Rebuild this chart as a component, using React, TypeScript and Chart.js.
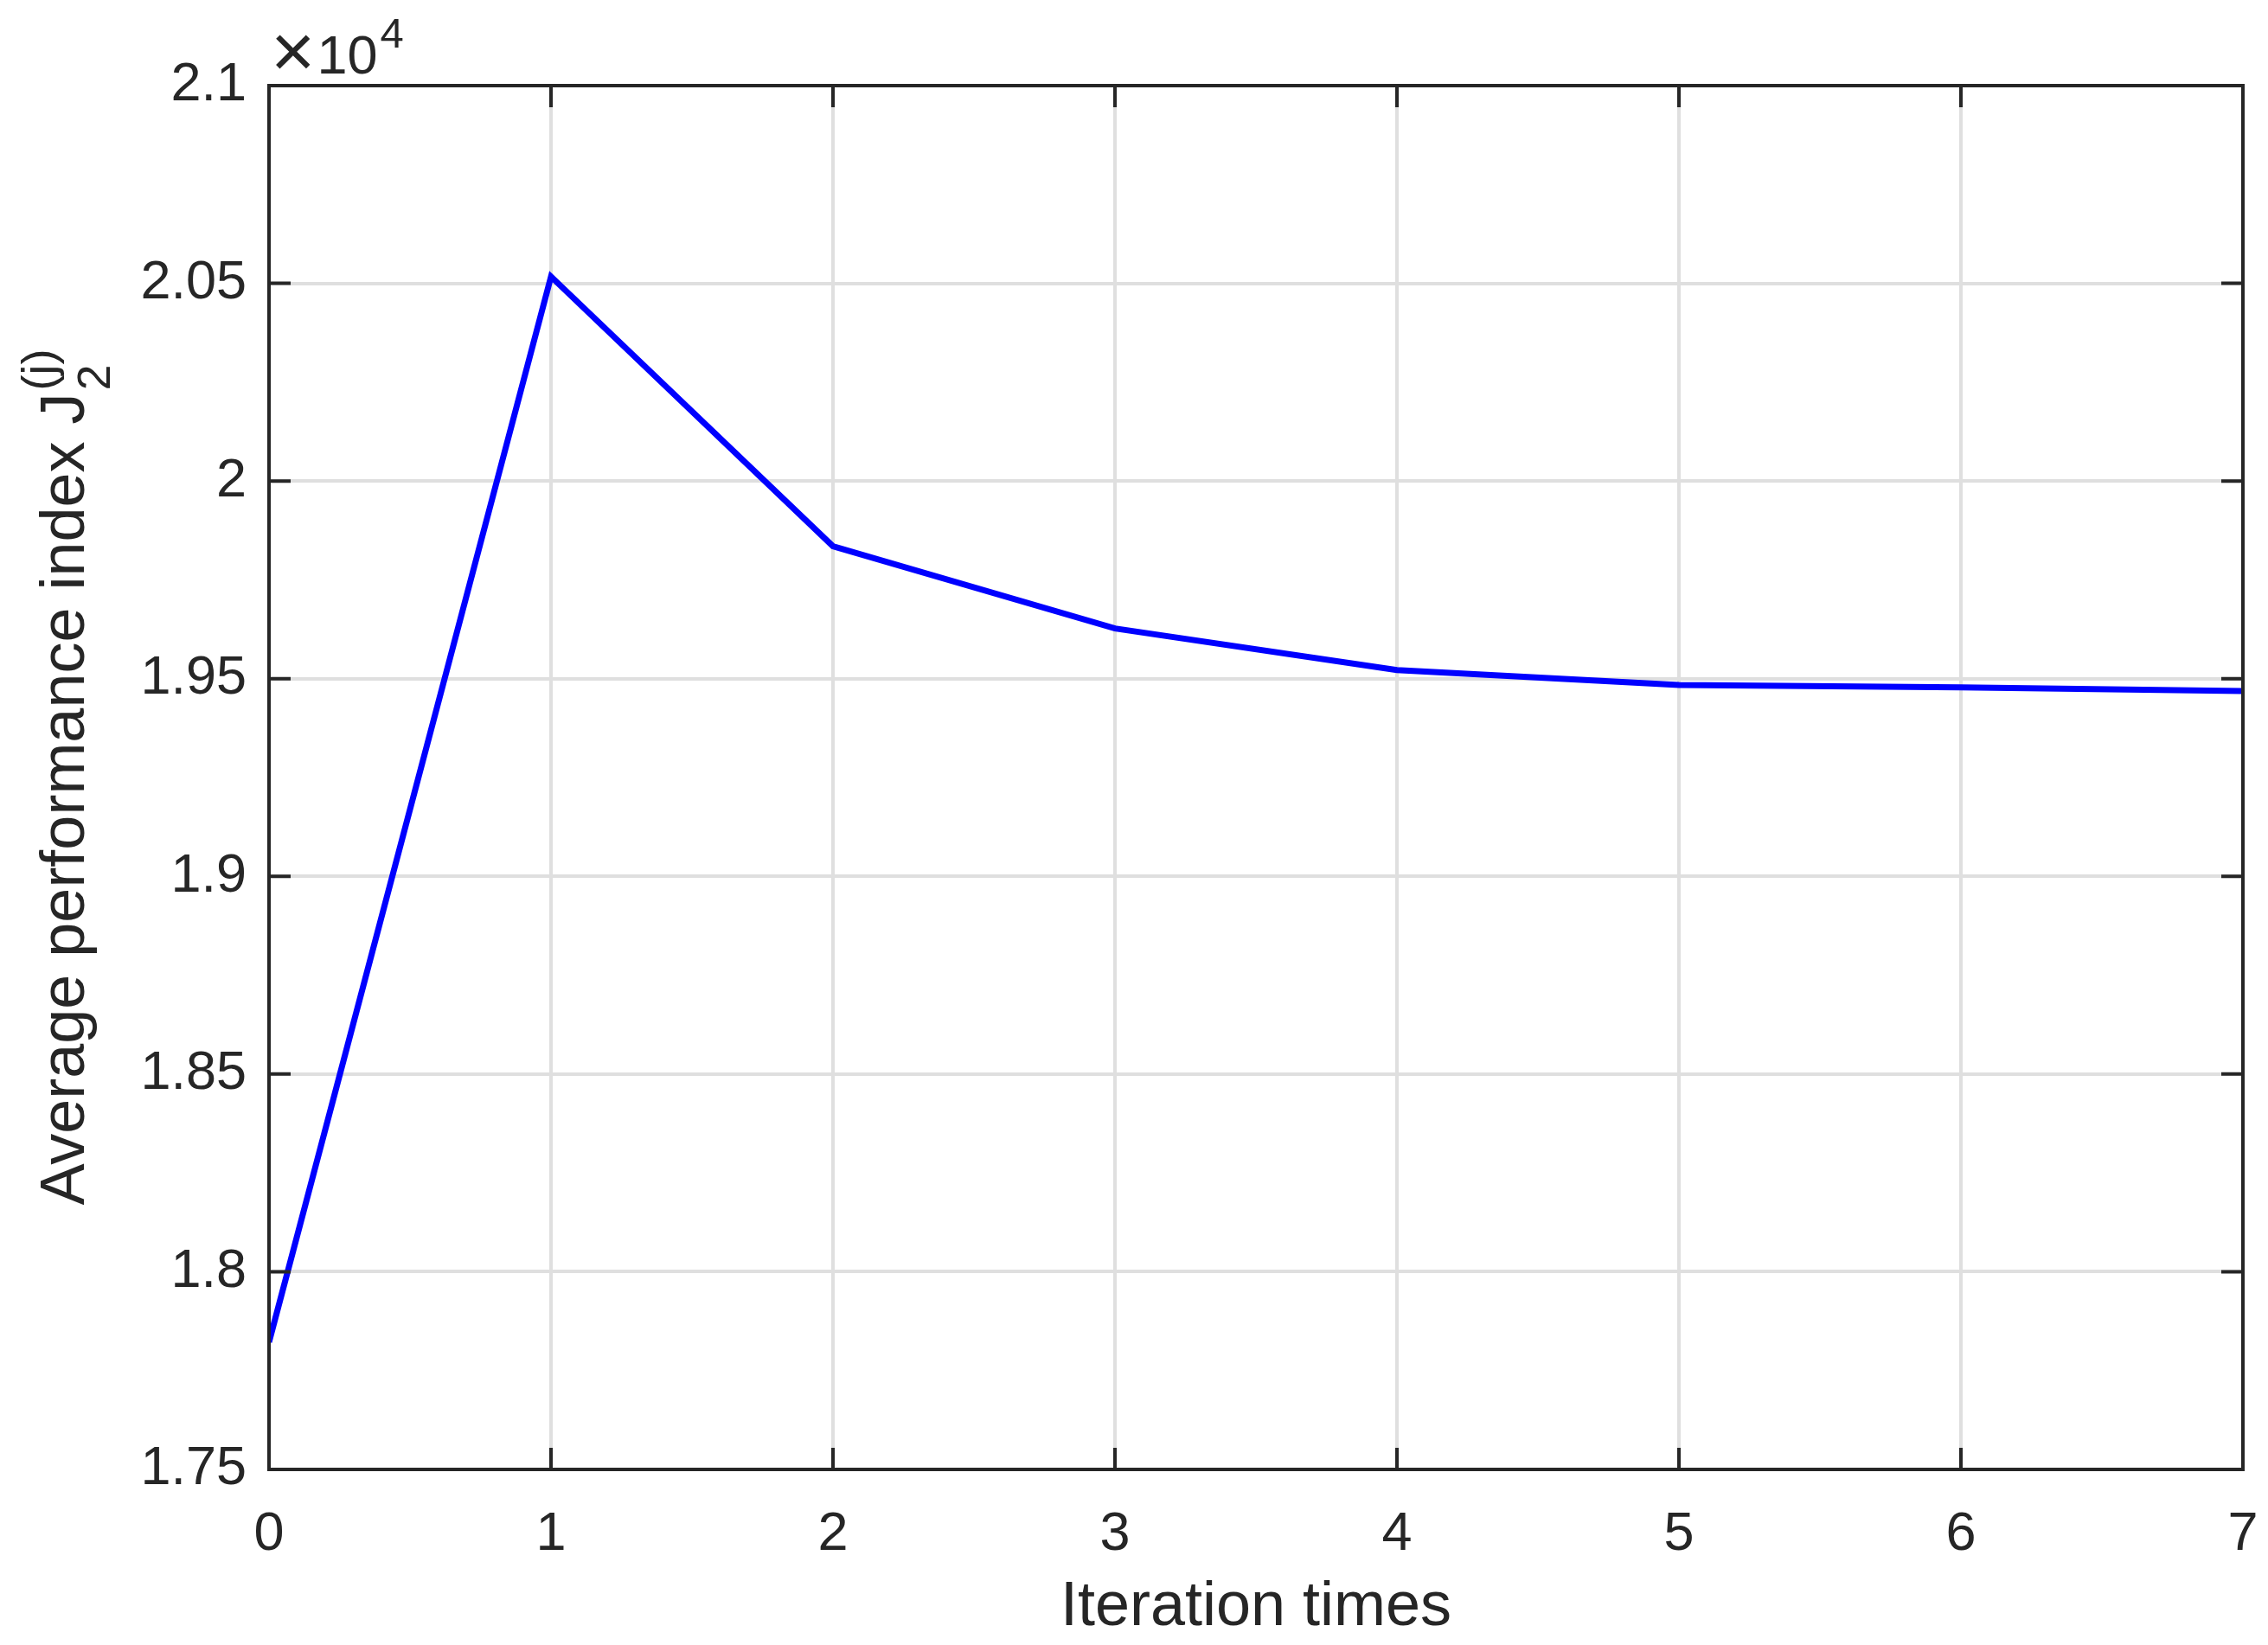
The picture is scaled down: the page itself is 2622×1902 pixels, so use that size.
import React, { useEffect, useRef } from 'react';
import { Chart, registerables } from 'chart.js';

Chart.register(...registerables);

// ---------- data ----------
const iterations = [0, 1, 2, 3, 4, 5, 6, 7];
const performanceIndex = [17822, 20517, 19835, 19627, 19522, 19484, 19478, 19469];
const xTickLabels = ['0', '1', '2', '3', '4', '5', '6', '7'];
const yTickLabels = ['1.75', '1.8', '1.85', '1.9', '1.95', '2', '2.05', '2.1'];
const xMin = 0;
const xMax = 7;
const yMin = 17500;
const yMax = 21000;
const yStep = 500;
const xLabel = 'Iteration times';
const yLabelMain = 'Average performance index J';
const yLabelSub = '2';
const yLabelSup = '(j)';
const exponentTimes = '\u00d7';
const exponentBase = '10';
const exponentPower = '4';

// ---------- style ----------
const W = 2622;
const H = 1902;
const FONT = '"Liberation Sans", Arial, Helvetica, sans-serif';
const INK = '#262626';
const GRID = '#dfdfdf';
const TICK_FONT = 63;
const LABEL_FONT = 72;
const SCRIPT_FONT = 54;

const decorPlugin = {
  id: 'matlabDecor',
  afterDatasetsDraw(chart: any) {
    const { ctx, chartArea: a, scales } = chart;
    const xs = scales.x;
    const ys = scales.y;
    ctx.save();
    // tick marks (inward, all four sides)
    const tl = 25;
    ctx.strokeStyle = INK;
    ctx.lineWidth = 4;
    ctx.lineCap = 'butt';
    ctx.beginPath();
    xs.ticks.forEach((t: any) => {
      const px = xs.getPixelForValue(t.value);
      ctx.moveTo(px, a.bottom);
      ctx.lineTo(px, a.bottom - tl);
      ctx.moveTo(px, a.top);
      ctx.lineTo(px, a.top + tl);
    });
    ys.ticks.forEach((t: any) => {
      const py = ys.getPixelForValue(t.value);
      ctx.moveTo(a.left, py);
      ctx.lineTo(a.left + tl, py);
      ctx.moveTo(a.right, py);
      ctx.lineTo(a.right - tl, py);
    });
    ctx.stroke();
    // box
    ctx.strokeRect(a.left, a.top, a.right - a.left, a.bottom - a.top);

    // exponent label
    ctx.fillStyle = INK;
    ctx.textAlign = 'left';
    ctx.textBaseline = 'alphabetic';
    let ex = a.left + 2;
    ctx.font = `88px ${FONT}`;
    ctx.fillText(exponentTimes, ex, a.top - 10);
    ex += ctx.measureText(exponentTimes).width + 2;
    ctx.font = `${TICK_FONT}px ${FONT}`;
    ctx.fillText(exponentBase, ex, a.top - 14);
    ex += ctx.measureText(exponentBase).width + 3;
    ctx.font = `49px ${FONT}`;
    ctx.fillText(exponentPower, ex, a.top - 44);

    // y title with sub/superscript
    const cy = (a.top + a.bottom) / 2;
    ctx.translate(97, cy);
    ctx.rotate(-Math.PI / 2);
    ctx.font = `${LABEL_FONT}px ${FONT}`;
    const wm = ctx.measureText(yLabelMain).width;
    ctx.font = `${SCRIPT_FONT}px ${FONT}`;
    const wsub = ctx.measureText(yLabelSub).width;
    const wsup = ctx.measureText(yLabelSup).width;
    const total = wm + 2 + Math.max(wsub, wsup);
    const start = -total / 2;
    ctx.font = `${LABEL_FONT}px ${FONT}`;
    ctx.fillText(yLabelMain, start, 0);
    ctx.font = `${SCRIPT_FONT}px ${FONT}`;
    ctx.fillText(yLabelSub, start + wm + 3, 30);
    ctx.fillText(yLabelSup, start + wm + 3, -34);
    ctx.restore();
  },
};

export default function App() {
  const ref = useRef<HTMLCanvasElement | null>(null);

  useEffect(() => {
    const canvas = ref.current;
    if (!canvas) return;
    const chart = new Chart(canvas, {
      type: 'line',
      data: {
        datasets: [
          {
            data: iterations.map((x, i) => ({ x, y: performanceIndex[i] })),
            borderColor: '#0000ff',
            borderWidth: 7,
            pointRadius: 0,
            tension: 0,
            fill: false,
          },
        ],
      },
      options: {
        animation: false,
        responsive: false,
        devicePixelRatio: 1,
        layout: { padding: { left: 0, top: 99, right: 29, bottom: 0 } },
        plugins: {
          legend: { display: false },
          tooltip: { enabled: false },
        },
        scales: {
          x: {
            type: 'linear',
            min: xMin,
            max: xMax,
            afterFit: (s: any) => {
              s.height = 203;
              s.paddingLeft = 0;
              s.paddingRight = 0;
            },
            grid: { color: GRID, lineWidth: 4, drawTicks: false },
            border: { display: false },
            ticks: {
              stepSize: 1,
              autoSkip: false,
              maxRotation: 0,
              padding: 38,
              color: INK,
              font: { family: FONT, size: TICK_FONT },
              callback: (_v: any, i: number) => xTickLabels[i],
            },
            title: {
              display: true,
              text: xLabel,
              color: INK,
              font: { family: FONT, size: LABEL_FONT },
              padding: { top: 0, bottom: 0 },
            },
          },
          y: {
            type: 'linear',
            min: yMin,
            max: yMax,
            afterFit: (s: any) => {
              s.width = 311;
              s.paddingTop = 0;
              s.paddingBottom = 0;
            },
            grid: { color: GRID, lineWidth: 4, drawTicks: false },
            border: { display: false },
            ticks: {
              stepSize: yStep,
              autoSkip: false,
              padding: 26,
              color: INK,
              font: { family: FONT, size: TICK_FONT },
              callback: (_v: any, i: number) => yTickLabels[i],
            },
          },
        },
      },
      plugins: [decorPlugin],
    });
    return () => chart.destroy();
  }, []);

  return (
    <div style={{ position: 'fixed', left: 0, top: 0, width: W, height: H, background: '#ffffff' }}>
      <canvas ref={ref} width={W} height={H} style={{ display: 'block' }} />
    </div>
  );
}
